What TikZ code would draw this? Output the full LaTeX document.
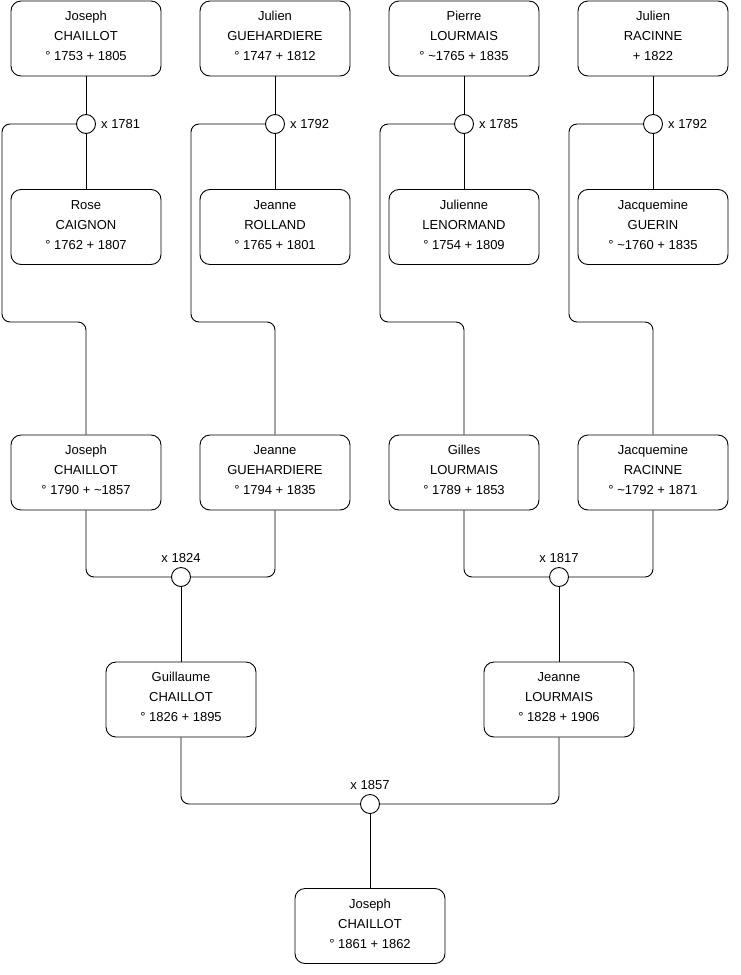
\documentclass[tikz,border=0pt]{standalone}
\usepackage{fontspec}
\setmainfont{Liberation Sans}
\newcommand\ptext[3]{\raisebox{2pt}[\height][\depth]{\begin{tabular}{@{}c@{}}#1\\#2\\#3\end{tabular}}}
\begin{document}
\begin{tikzpicture}[x=1pt,y=-1pt,
  person/.style={draw=black,line width=0.9pt,rounded corners=10pt,minimum width=150pt,minimum height=75pt,inner sep=0pt,font=\fontsize{13}{20}\selectfont},
  union/.style={draw=black,line width=0.9pt,circle,minimum size=19pt,inner sep=0pt,fill=white},
  lbl/.style={font=\fontsize{13}{15}\selectfont,inner sep=0pt},
  conn/.style={draw=black,line width=0.9pt,rounded corners=8pt}]
\useasboundingbox (0,0) rectangle (740,975);
% generation 1
\node[person] (a1) at (86,38.5) {\ptext{Joseph}{CHAILLOT}{° 1753 + 1805}};
\node[person] (a2) at (275,38.5) {\ptext{Julien}{GUEHARDIERE}{° 1747 + 1812}};
\node[person] (a3) at (464,38.5) {\ptext{Pierre}{LOURMAIS}{° \textasciitilde1765 + 1835}};
\node[person] (a4) at (653,38.5) {\ptext{Julien}{RACINNE}{+ 1822}};
\node[person] (b1) at (86,227) {\ptext{Rose}{CAIGNON}{° 1762 + 1807}};
\node[person] (b2) at (275,227) {\ptext{Jeanne}{ROLLAND}{° 1765 + 1801}};
\node[person] (b3) at (464,227) {\ptext{Julienne}{LENORMAND}{° 1754 + 1809}};
\node[person] (b4) at (653,227) {\ptext{Jacquemine}{GUERIN}{° \textasciitilde1760 + 1835}};
% generation 2
\node[person] (c1) at (86,472.5) {\ptext{Joseph}{CHAILLOT}{° 1790 + \textasciitilde1857}};
\node[person] (c2) at (275,472.5) {\ptext{Jeanne}{GUEHARDIERE}{° 1794 + 1835}};
\node[person] (c3) at (464,472.5) {\ptext{Gilles}{LOURMAIS}{° 1789 + 1853}};
\node[person] (c4) at (653,472.5) {\ptext{Jacquemine}{RACINNE}{° \textasciitilde1792 + 1871}};
% generation 3
\node[person] (d1) at (181,699.5) {\ptext{Guillaume}{CHAILLOT}{° 1826 + 1895}};
\node[person] (d2) at (559,699.5) {\ptext{Jeanne}{LOURMAIS}{° 1828 + 1906}};
% generation 4
\node[person] (e1) at (370,926) {\ptext{Joseph}{CHAILLOT}{° 1861 + 1862}};
% unions
\node[union] (u1) at (86,124) {};
\node[union] (u2) at (275,124) {};
\node[union] (u3) at (464,124) {};
\node[union] (u4) at (653,124) {};
\node[union] (v1) at (181,577) {};
\node[union] (v2) at (559,577) {};
\node[union] (w1) at (370,804) {};
\node[lbl,anchor=west] (lu1) at ([xshift=5pt]u1.east) {x 1781};
\node[lbl,anchor=west] (lu2) at ([xshift=5pt]u2.east) {x 1792};
\node[lbl,anchor=west] (lu3) at ([xshift=5pt]u3.east) {x 1785};
\node[lbl,anchor=west] (lu4) at ([xshift=5pt]u4.east) {x 1792};
\node[lbl,anchor=south] (lv1) at ([yshift=4pt]v1.north) {x 1824};
\node[lbl,anchor=south] (lv2) at ([yshift=4pt]v2.north) {x 1817};
\node[lbl,anchor=south] (lw1) at ([yshift=4pt]w1.north) {x 1857};
% couple lines gen 1
\foreach \p/\u/\q in {a1/u1/b1,a2/u2/b2,a3/u3/b3,a4/u4/b4}{
  \draw[conn] (\p.south) -- (\u.north);
  \draw[conn] (\u.south) -- (\q.north);
}
% descent to gen 2
\foreach \u/\c in {u1/c1,u2/c2,u3/c3,u4/c4}{
  \draw[conn] (\u.west) -- ([xshift=-84pt]\u.center) -- ([xshift=-84pt,yshift=-198pt]\u.center) -- ([yshift=-198pt]\u.center) -- (\c.north);
}
% gen 2 couples
\draw[conn] (c1.south) |- (v1.west);
\draw[conn] (c2.south) |- (v1.east);
\draw[conn] (v1.south) -- (d1.north);
\draw[conn] (c3.south) |- (v2.west);
\draw[conn] (c4.south) |- (v2.east);
\draw[conn] (v2.south) -- (d2.north);
% gen 3 couple
\draw[conn] (d1.south) |- (w1.west);
\draw[conn] (d2.south) |- (w1.east);
\draw[conn] (w1.south) -- (e1.north);
\end{tikzpicture}
\end{document}
